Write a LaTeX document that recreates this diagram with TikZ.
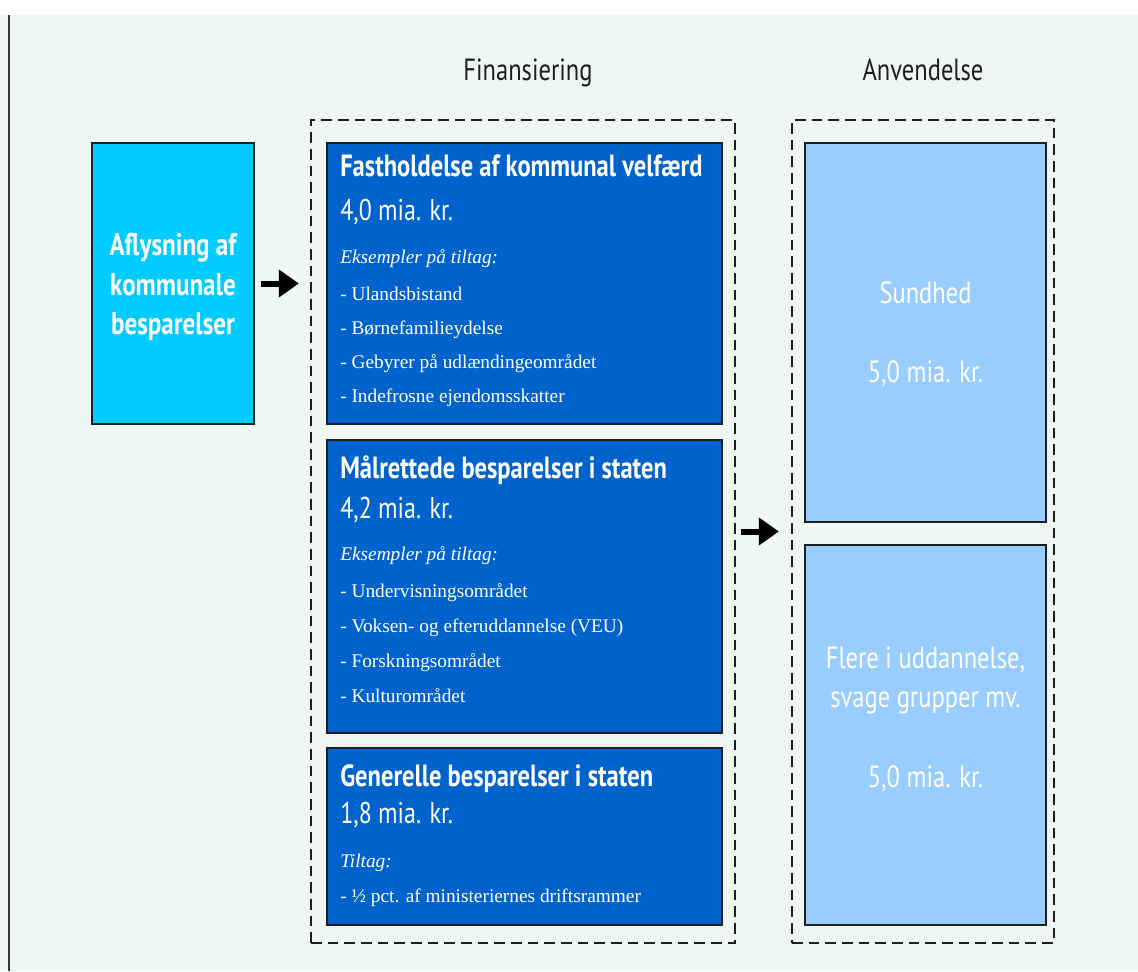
\documentclass[tikz,border=0pt]{standalone}
\usepackage{fontspec}
\setmainfont{Liberation Serif}
\newfontfamily\condsans[FakeStretch=0.8]{PT Sans}
\usetikzlibrary{arrows.meta}

\definecolor{bgmint}{RGB}{239,247,245}
\definecolor{boxline}{RGB}{30,30,30}
\definecolor{darkblue}{RGB}{0,99,204}
\definecolor{cyanbox}{RGB}{0,204,255}
\definecolor{lightblue}{RGB}{153,204,255}

\begin{document}
\begin{tikzpicture}[
    x=0.75pt, y=-0.75pt,
    every node/.style={inner sep=0pt},
    solidbox/.style={
        draw=boxline,
        line width=1.4pt
    },
    dashbox/.style={
        draw=boxline,
        line width=1.7pt,
        dash pattern=on 8pt off 4.5pt
    },
    headtext/.style={font={\condsans\bfseries\fontsize{23}{27}\selectfont}, text=white, anchor=base west},
    sumtext/.style={font={\condsans\fontsize{22.5}{27}\selectfont}, text=white, anchor=base west},
    itemtext/.style={font={\fontsize{14.5}{17}\selectfont}, text=white, anchor=base west},
    lighttext/.style={font={\condsans\fontsize{23}{28}\selectfont}, text=white, anchor=base},
    coltitle/.style={font={\condsans\fontsize{23}{27}\selectfont}, text=boxline, anchor=base},
    flow/.style={-{Triangle[length=15pt,width=20pt]}, line width=4.5pt, black}
]

    \useasboundingbox (0,0) rectangle (1138,971);

    % background
    \fill[white] (0,0) rectangle (1138,15);
    \fill[bgmint] (0,15) rectangle (1138,971);
    \draw[line width=2.2pt, black!80] (9,15) -- (9,971);

    % column titles
    \node[coltitle] (fintitle) at (528,80) {Finansiering};
    \node[coltitle] (anvtitle) at (923,80) {Anvendelse};

    % left box
    \node[
        solidbox,
        fill=cyanbox,
        minimum width=121.5pt,
        minimum height=210.75pt
    ] (aflysbox) at (173,283.5) {};

    \node[
        font={\condsans\bfseries\fontsize{23.5}{29.5}\selectfont},
        text=white,
        align=center
    ] (aflystext) at (173,287) {Aflysning af\\kommunale\\besparelser};

    % Finansiering
    \node[dashbox, minimum width=318pt, minimum height=617.25pt] (finbox) at (523,531.5) {};

    \node[solidbox, fill=darkblue, minimum width=296.25pt, minimum height=210.75pt] (velfbox) at (524.5,283.5) {};
    \node[headtext] (velfhead) at (340,176) {Fastholdelse af kommunal velfærd};
    \node[sumtext] (velfsum) at (340,220) {4,0 mia. kr.};
    \node[itemtext, font={\itshape\fontsize{14.5}{17}\selectfont}] (velfex) at (340,263) {Eksempler på tiltag:};
    \foreach \t [count=\i from 0] in {- Ulandsbistand, - Børnefamilieydelse,
        - Gebyrer på udlændingeområdet, - Indefrosne ejendomsskatter}{
        \node[itemtext] (velfitem\i) at (340,300+34*\i) {\t};
    }

    \node[solidbox, fill=darkblue, minimum width=296.25pt, minimum height=219.75pt] (maalbox) at (524.5,586.5) {};
    \node[headtext] (maalhead) at (340,478) {Målrettede besparelser i staten};
    \node[sumtext] (maalsum) at (340,518) {4,2 mia. kr.};
    \node[itemtext, font={\itshape\fontsize{14.5}{17}\selectfont}] (maalex) at (340,560) {Eksempler på tiltag:};
    \foreach \t [count=\i from 0] in {- Undervisningsområdet, - Voksen- og efteruddannelse (VEU),
        - Forskningsområdet, - Kulturområdet}{
        \node[itemtext] (maalitem\i) at (340,597+35*\i) {\t};
    }

    \node[solidbox, fill=darkblue, minimum width=296.25pt, minimum height=132.75pt] (genbox) at (524.5,836.5) {};
    \node[headtext] (genhead) at (340,786) {Generelle besparelser i staten};
    \node[sumtext] (gensum) at (340,823) {1,8 mia. kr.};
    \node[itemtext, font={\itshape\fontsize{14.5}{17}\selectfont}] (genex) at (340,867) {Tiltag:};
    \node[itemtext] (genitem) at (340,902) {- ½ pct. af ministeriernes driftsrammer};

    % Anvendelse
    \node[dashbox, minimum width=196.5pt, minimum height=617.25pt] (anvbox) at (923,531.5) {};

    \node[solidbox, fill=lightblue, minimum width=180.75pt, minimum height=284.25pt] (sundbox) at (925.5,332.5) {};
    \node[lighttext] (sundhead) at (925.5,303) {Sundhed};
    \node[lighttext] (sundsum) at (925.5,382) {5,0 mia. kr.};

    \node[solidbox, fill=lightblue, minimum width=180.75pt, minimum height=285pt] (flerebox) at (925.5,735) {};
    \node[lighttext] (flerehead) at (925.5,668) {Flere i uddannelse,};
    \node[lighttext] (flerehead2) at (925.5,707) {svage grupper mv.};
    \node[lighttext] (fleresum) at (925.5,787) {5,0 mia. kr.};

    % arrows
    \draw[flow, shorten <=4.5pt, shorten >=8.25pt] (aflysbox.east) -- (aflysbox.east -| finbox.west);
    \draw[flow, shorten <=3.75pt, shorten >=9pt] (finbox.east) -- (anvbox.west);

\end{tikzpicture}
\end{document}
